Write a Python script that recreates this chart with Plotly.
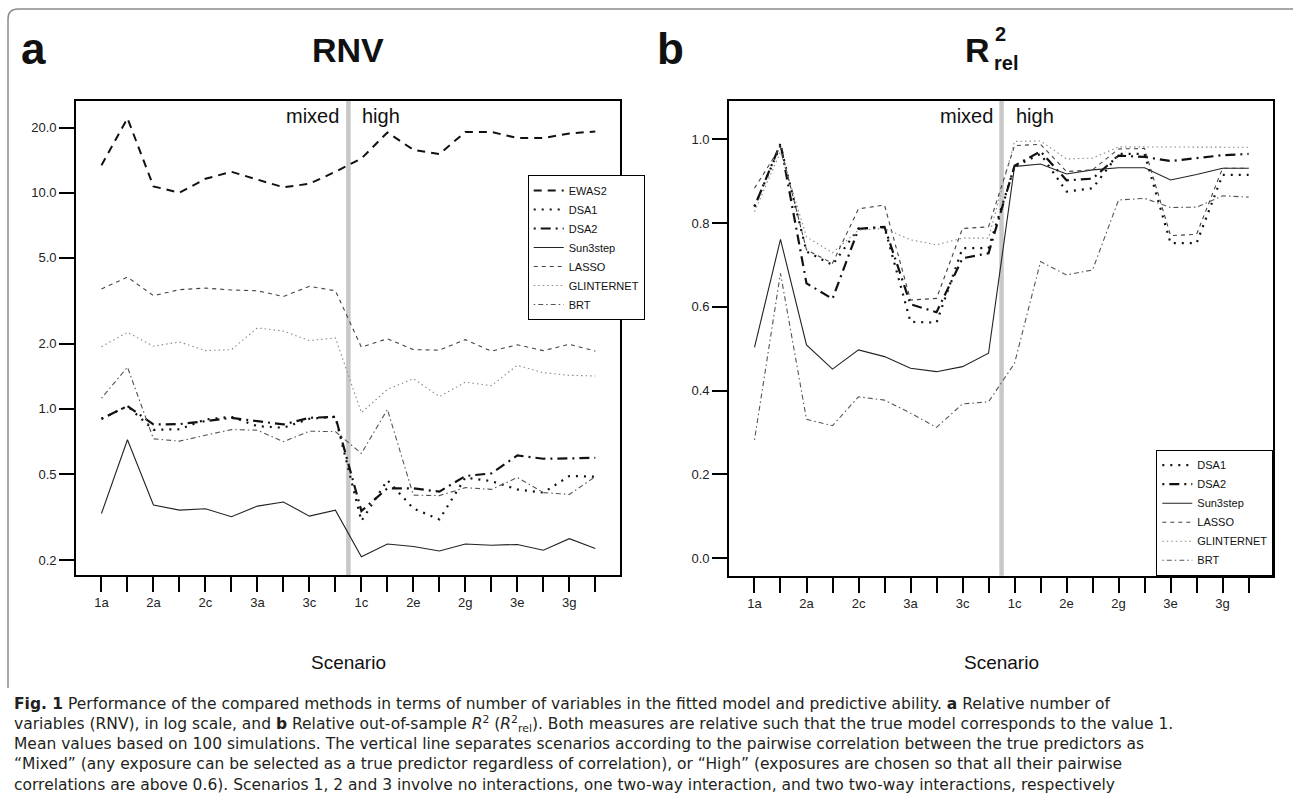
import math
import plotly.graph_objects as go

W, H = 1293, 797

# ---------------- data ----------------
scen_mixed = ["1a", "1b", "2a", "2b", "2c", "2d", "3a", "3b", "3c", "3d"]
scen_high = ["1c", "1d", "2e", "2f", "2g", "2h", "3e", "3f", "3g", "3h"]
scenarios = scen_mixed + scen_high
xpos = list(range(1, len(scenarios) + 1))
# only every second scenario is labelled on the axis
label_pos = xpos[::2]
label_text = scenarios[::2]

# Panel a: RNV (log scale)
rnv_EWAS2 = [13.4, 22.1, 10.7, 10.0, 11.6, 12.5, 11.5, 10.6, 11.0, 12.5,
             14.4, 19.0, 15.8, 15.1, 19.1, 19.1, 17.9, 17.9, 18.8, 19.2]
rnv_DSA1 = [0.90, 1.03, 0.80, 0.805, 0.893, 0.919, 0.832, 0.818, 0.90, 0.919,
            0.303, 0.468, 0.346, 0.308, 0.481, 0.463, 0.424, 0.41, 0.489, 0.486]
rnv_DSA2 = [0.90, 1.03, 0.847, 0.85, 0.877, 0.909, 0.877, 0.847, 0.909, 0.919,
            0.337, 0.429, 0.429, 0.414, 0.489, 0.503, 0.609, 0.588, 0.59, 0.594]
rnv_Sun3step = [0.328, 0.72, 0.359, 0.34, 0.345, 0.317, 0.355, 0.371, 0.319, 0.34,
                0.207, 0.237, 0.231, 0.22, 0.237, 0.234, 0.236, 0.222, 0.251, 0.226]
rnv_LASSO = [3.59, 4.07, 3.34, 3.56, 3.62, 3.55, 3.52, 3.31, 3.69, 3.52,
             1.93, 2.11, 1.88, 1.87, 2.09, 1.85, 1.98, 1.86, 1.99, 1.85]
rnv_GLINTERNET = [1.94, 2.26, 1.95, 2.04, 1.86, 1.88, 2.37, 2.29, 2.07, 2.13,
                  0.96, 1.23, 1.38, 1.14, 1.33, 1.28, 1.59, 1.47, 1.43, 1.42]
rnv_BRT = [1.12, 1.56, 0.727, 0.709, 0.755, 0.802, 0.797, 0.705, 0.788, 0.785,
           0.622, 0.994, 0.399, 0.397, 0.432, 0.424, 0.481, 0.41, 0.402, 0.486]

# Panel b: relative out-of-sample R2
r2_DSA1 = [0.84, 0.985, 0.732, 0.70, 0.787, 0.79, 0.564, 0.562, 0.740, 0.740,
           0.935, 0.965, 0.875, 0.883, 0.965, 0.965, 0.752, 0.752, 0.915, 0.915]
r2_DSA2 = [0.839, 0.990, 0.656, 0.619, 0.786, 0.791, 0.606, 0.587, 0.716, 0.728,
           0.937, 0.971, 0.902, 0.906, 0.961, 0.958, 0.948, 0.955, 0.962, 0.965]
r2_Sun3step = [0.503, 0.761, 0.509, 0.451, 0.497, 0.481, 0.453, 0.445, 0.457, 0.489,
               0.935, 0.941, 0.917, 0.927, 0.932, 0.932, 0.903, 0.916, 0.931, 0.931]
r2_LASSO = [0.883, 0.982, 0.736, 0.704, 0.834, 0.843, 0.616, 0.620, 0.787, 0.791,
            0.985, 0.988, 0.923, 0.927, 0.977, 0.978, 0.770, 0.773, 0.931, 0.931]
r2_GLINTERNET = [0.827, 0.970, 0.767, 0.729, 0.783, 0.787, 0.760, 0.748, 0.764, 0.764,
                 0.995, 0.996, 0.953, 0.955, 0.982, 0.982, 0.982, 0.982, 0.982, 0.981]
r2_BRT = [0.282, 0.680, 0.331, 0.316, 0.385, 0.377, 0.346, 0.312, 0.368, 0.373,
          0.465, 0.708, 0.676, 0.688, 0.855, 0.859, 0.837, 0.838, 0.865, 0.862]

rnv_series = [("EWAS2", rnv_EWAS2), ("DSA1", rnv_DSA1), ("DSA2", rnv_DSA2),
              ("Sun3step", rnv_Sun3step), ("LASSO", rnv_LASSO),
              ("GLINTERNET", rnv_GLINTERNET), ("BRT", rnv_BRT)]
r2_series = [("DSA1", r2_DSA1), ("DSA2", r2_DSA2), ("Sun3step", r2_Sun3step),
             ("LASSO", r2_LASSO), ("GLINTERNET", r2_GLINTERNET), ("BRT", r2_BRT)]

rnv_ticks = [0.2, 0.5, 1, 2, 5, 10, 20]
rnv_ticktext = ["0.2", "0.5", "1.0", "2.0", "5.0", "10.0", "20.0"]
r2_ticks = [0.0, 0.2, 0.4, 0.6, 0.8, 1.0]
r2_ticktext = ["0.0", "0.2", "0.4", "0.6", "0.8", "1.0"]

# ---------------- styles ----------------
styles = {
    "EWAS2": dict(color="#111111", width=2.0, dash="8px,6px"),
    "DSA1": dict(color="#111111", width=2.2, dash="2px,6px"),
    "DSA2": dict(color="#111111", width=2.2, dash="2px,5px,10px,5px"),
    "Sun3step": dict(color="#222222", width=1.1, dash="solid"),
    "LASSO": dict(color="#444444", width=1.1, dash="4px,4px"),
    "GLINTERNET": dict(color="#8a8a8a", width=1.1, dash="1.5px,3px"),
    "BRT": dict(color="#555555", width=1.1, dash="1.5px,3px,5px,3px"),
}

FONT = "Liberation Sans, Arial, Helvetica, sans-serif"
CAPTION_FONT = "DejaVu Sans, Liberation Sans, sans-serif"


def px_x(p):
    return p / W


def px_y(p):
    return 1 - p / H


fig = go.Figure()

for name, vals in rnv_series:
    fig.add_trace(go.Scatter(x=xpos, y=vals, mode="lines", name=name,
                             line=styles[name], xaxis="x", yaxis="y",
                             legend="legend"))
for name, vals in r2_series:
    fig.add_trace(go.Scatter(x=xpos, y=vals, mode="lines", name=name,
                             line=styles[name], xaxis="x2", yaxis="y2",
                             legend="legend2"))

axis_common = dict(showgrid=False, zeroline=False, showline=True, mirror=True,
                   linecolor="black", linewidth=1.6, ticks="outside",
                   ticklen=15, tickwidth=2, tickcolor="black",
                   tickfont=dict(family=FONT, size=13, color="#222222"))
minor_x = dict(tick0=0, dtick=1, ticks="outside", ticklen=15, tickwidth=2,
               tickcolor="black", showgrid=False)

xr = [0.02, 20.95]
fig.update_layout(
    width=W, height=H,
    margin=dict(l=0, r=0, t=0, b=0),
    paper_bgcolor="white", plot_bgcolor="white",
    font=dict(family=FONT, color="#111111"),
    xaxis=dict(domain=[px_x(76), px_x(620)], range=xr, tickmode="array",
               tickvals=label_pos, ticktext=label_text, minor=minor_x,
               anchor="y", **axis_common),
    yaxis=dict(domain=[px_y(575), px_y(100.7)], type="log",
               range=[math.log10(0.1704), math.log10(26.65)],
               tickmode="array", tickvals=rnv_ticks, ticktext=rnv_ticktext,
               anchor="x", **axis_common),
    xaxis2=dict(domain=[px_x(729), px_x(1273.3)], range=xr, tickmode="array",
                tickvals=label_pos, ticktext=label_text, minor=minor_x,
                anchor="y2", **axis_common),
    yaxis2=dict(domain=[px_y(575.7), px_y(100.7)], range=[-0.0423, 1.0922],
                tickmode="array", tickvals=r2_ticks, ticktext=r2_ticktext,
                anchor="x2", **axis_common),
    legend=dict(x=px_x(527.7), y=px_y(175), xanchor="left", yanchor="top",
                bgcolor="white", bordercolor="black", borderwidth=1,
                font=dict(family=FONT, size=11, color="#111111"),
                itemwidth=30, tracegroupgap=0, traceorder="normal"),
    legend2=dict(x=px_x(1273.3), y=px_y(575.7), xanchor="right", yanchor="bottom",
                 bgcolor="white", bordercolor="black", borderwidth=1,
                 font=dict(family=FONT, size=11, color="#111111"),
                 itemwidth=30, tracegroupgap=0, traceorder="normal"),
    showlegend=True,
)

# vertical separators between "mixed" and "high" scenarios
sep = len(scen_mixed) + 0.5
for xa, ya in (("x", "y"), ("x2", "y2")):
    fig.add_shape(type="line", xref=xa, yref=ya + " domain", x0=sep, x1=sep,
                  y0=0, y1=1, line=dict(color="#c8c8c8", width=4.5), layer="below")
    fig.add_annotation(xref=xa, x=sep, yref="paper", y=px_y(116), text="mixed",
                       showarrow=False, xanchor="right", yanchor="middle", xshift=-7,
                       font=dict(family=FONT, size=20, color="#111111"))
    fig.add_annotation(xref=xa, x=sep, yref="paper", y=px_y(116), text="high",
                       showarrow=False, xanchor="left", yanchor="middle", xshift=12,
                       font=dict(family=FONT, size=20, color="#111111"))
    fig.add_annotation(xref=xa + " domain", x=0.5, yref="paper", y=px_y(662),
                       text="Scenario", showarrow=False, xanchor="center",
                       yanchor="middle",
                       font=dict(family=FONT, size=19, color="#111111"))

# panel titles
fig.add_annotation(xref="paper", yref="paper", x=px_x(33), y=px_y(48), text="<b>a</b>",
                   showarrow=False, xanchor="center", yanchor="middle",
                   font=dict(family=FONT, size=44, color="#111111"))
fig.add_annotation(xref="paper", yref="paper", x=px_x(670), y=px_y(48), text="<b>b</b>",
                   showarrow=False, xanchor="center", yanchor="middle",
                   font=dict(family=FONT, size=44, color="#111111"))
fig.add_annotation(xref="paper", yref="paper", x=px_x(348), y=px_y(50), text="<b>RNV</b>",
                   showarrow=False, xanchor="center", yanchor="middle",
                   font=dict(family=FONT, size=34, color="#111111"))
fig.add_annotation(xref="paper", yref="paper", x=px_x(992), y=px_y(50), text="<b>R</b>",
                   showarrow=False, xanchor="right", yanchor="middle",
                   font=dict(family=FONT, size=34, color="#111111"))
fig.add_annotation(xref="paper", yref="paper", x=px_x(993), y=px_y(34), text="<b>2</b>",
                   showarrow=False, xanchor="left", yanchor="middle",
                   font=dict(family=FONT, size=20, color="#111111"))
fig.add_annotation(xref="paper", yref="paper", x=px_x(992), y=px_y(63), text="<b>rel</b>",
                   showarrow=False, xanchor="left", yanchor="middle",
                   font=dict(family=FONT, size=20, color="#111111"))

# figure frame (rounded top-left corner)
r = 10
frame = (f"M {px_x(1293)},{px_y(9)} L {px_x(8 + r)},{px_y(9)} "
         f"Q {px_x(8)},{px_y(9)} {px_x(8)},{px_y(9 + r)} L {px_x(8)},{px_y(688)}")
fig.add_shape(type="path", xref="paper", yref="paper", path=frame,
              line=dict(color="#8c8c8c", width=1.5))

# caption (one multi-line text block)
caption_lines = [
    "<b>Fig. 1</b> Performance of the compared methods in terms of number of variables in the fitted model and predictive ability. <b>a</b> Relative number of",
    "variables (RNV), in log scale, and <b>b</b> Relative out-of-sample <i>R</i><sup>2</sup> (<i>R</i><sup>2</sup><sub>rel</sub>). Both measures are relative such that the true model corresponds to the value 1.",
    "Mean values based on 100 simulations. The vertical line separates scenarios according to the pairwise correlation between the true predictors as",
    "\u201cMixed\u201d (any exposure can be selected as a true predictor regardless of correlation), or \u201cHigh\u201d (exposures are chosen so that all their pairwise",
    "correlations are above 0.6). Scenarios 1, 2 and 3 involve no interactions, one two-way interaction, and two two-way interactions, respectively",
]
fig.add_annotation(xref="paper", yref="paper", x=px_x(12), y=px_y(693),
                   text="<br>".join(caption_lines), showarrow=False,
                   xanchor="left", yanchor="top", align="left",
                   font=dict(family=CAPTION_FONT, size=15.5, color="#231f20"))

fig.write_html("out.html", config={"displayModeBar": False},
               post_script="document.body.style.margin='0px';")
